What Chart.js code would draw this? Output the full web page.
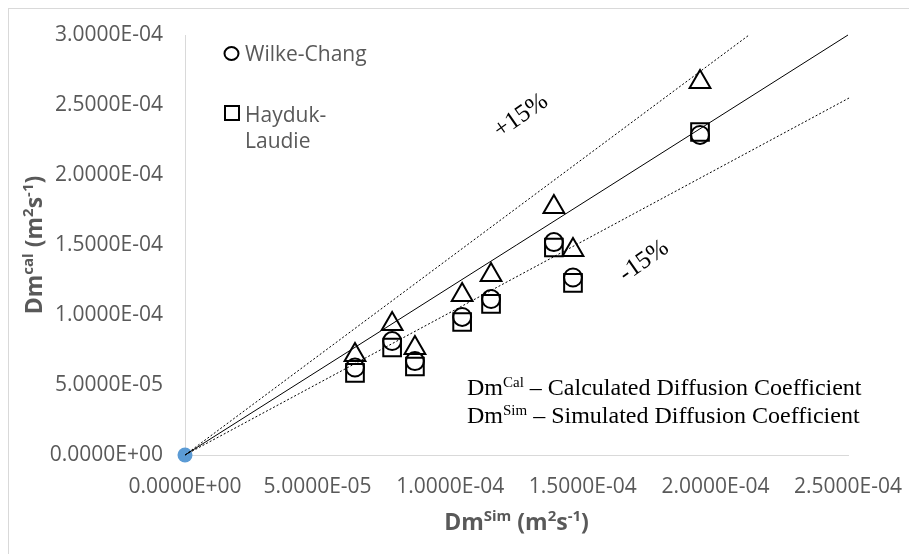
<!DOCTYPE html>
<html>
<head>
<meta charset="utf-8">
<script src="https://cdn.jsdelivr.net/npm/chart.js@4.4.1/dist/chart.umd.min.js"></script>
<style>
  html, body { margin: 0; padding: 0; background: #ffffff; }
  canvas { display: block; }
</style>
</head>
<body>
<canvas id="chart" width="909" height="554"></canvas>
<script>
// Simulated diffusion coefficients (x) and the calculated values of each correlation (y), m2/s
const simulated      = [6.41e-5, 7.81e-5, 8.67e-5, 1.045e-4, 1.154e-4, 1.391e-4, 1.463e-4, 1.942e-4];
const wilkeChang     = [6.25e-5, 8.14e-5, 6.71e-5, 9.86e-5, 1.114e-4, 1.521e-4, 1.268e-4, 2.286e-4];
const haydukLaudie   = [5.86e-5, 7.68e-5, 6.32e-5, 9.50e-5, 1.079e-4, 1.482e-4, 1.229e-4, 2.307e-4];
const thirdCorrelation = [7.14e-5, 9.36e-5, 7.64e-5, 1.143e-4, 1.286e-4, 1.771e-4, 1.464e-4, 2.664e-4];

// Reference point at the origin
const originX = [0];
const originY = [0];

// Guide lines: centre line and the +15% / -15% bands (start and end points)
const centreLineX = [0, 2.5e-4];
const centreLineY = [0, 3.0e-4];
const plusBandX   = [0, 2.127e-4];
const plusBandY   = [0, 3.0e-4];
const minusBandX  = [0, 2.504e-4];
const minusBandY  = [0, 2.55e-4];

// Axis ticks
const xTickValues = [0, 5e-5, 1e-4, 1.5e-4, 2e-4, 2.5e-4];
const xTickLabels = ['0.0000E+00', '5.0000E-05', '1.0000E-04', '1.5000E-04', '2.0000E-04', '2.5000E-04'];
const yTickValues = [0, 5e-5, 1e-4, 1.5e-4, 2e-4, 2.5e-4, 3e-4];
const yTickLabels = ['0.0000E+00', '5.0000E-05', '1.0000E-04', '1.5000E-04', '2.0000E-04', '2.5000E-04', '3.0000E-04'];

const pairs = (xs, ys) => xs.map((x, i) => ({ x: x, y: ys[i] }));

const SANS = '"Open Sans", "Noto Sans", sans-serif';
const SERIF = '"Liberation Serif", "DejaVu Serif", serif';
const GREY_TEXT = '#595959';

// Draws a sequence of text runs (some raised as superscripts) centred on x
function drawRuns(ctx, runs, x, y, align) {
  let total = 0;
  runs.forEach(r => { ctx.font = r.font; r.w = ctx.measureText(r.t).width; total += r.w; });
  let cx = align === 'left' ? x : x - total / 2;
  ctx.textAlign = 'left';
  ctx.textBaseline = 'alphabetic';
  runs.forEach(r => {
    ctx.font = r.font;
    ctx.fillText(r.t, cx, y - (r.rise || 0));
    cx += r.w;
  });
}

const decorations = {
  id: 'decorations',
  beforeDraw(chart) {
    const ctx = chart.ctx;
    ctx.save();
    ctx.strokeStyle = '#d9d9d9';
    ctx.lineWidth = 1;
    ctx.strokeRect(8.5, 8.5, 905, 560);
    ctx.restore();
  },
  afterDraw(chart) {
    const ctx = chart.ctx;
    const area = chart.chartArea;
    ctx.save();

    // Axis titles
    const tb = 'bold 23px ' + SANS;
    const ts = 'bold 15px ' + SANS;
    ctx.fillStyle = GREY_TEXT;
    const xTitle = [
      { t: 'Dm', font: tb }, { t: 'Sim', font: ts, rise: 9 },
      { t: ' (m', font: tb }, { t: '2', font: ts, rise: 9 },
      { t: 's', font: tb }, { t: '-1', font: ts, rise: 9 }, { t: ')', font: tb }
    ];
    drawRuns(ctx, xTitle, (area.left + area.right) / 2, 530);

    const yTitle = [
      { t: 'Dm', font: tb }, { t: 'cal', font: ts, rise: 9 },
      { t: ' (m', font: tb }, { t: '2', font: ts, rise: 9 },
      { t: 's', font: tb }, { t: '-1', font: ts, rise: 9 }, { t: ')', font: tb }
    ];
    ctx.save();
    ctx.translate(42, (area.top + area.bottom) / 2);
    ctx.rotate(-Math.PI / 2);
    drawRuns(ctx, yTitle, 0, 0);
    ctx.restore();

    // Legend box text
    ctx.font = '21px ' + SANS;
    ctx.fillStyle = GREY_TEXT;
    ctx.textAlign = 'left';
    ctx.textBaseline = 'alphabetic';
    ctx.fillText('Wilke-Chang', 245, 61);
    ctx.fillText('Hayduk-', 245, 122);
    ctx.fillText('Laudie', 245, 148);
    ctx.strokeStyle = '#000000';
    ctx.lineWidth = 2;
    ctx.beginPath();
    ctx.ellipse(231.5, 53.5, 7, 6.5, 0, 0, Math.PI * 2);
    ctx.stroke();
    ctx.strokeRect(225, 106, 14, 14);

    // Band labels
    ctx.fillStyle = '#000000';
    ctx.font = '25px ' + SERIF;
    ctx.textAlign = 'center';
    ctx.textBaseline = 'middle';
    ctx.save();
    ctx.translate(521, 116);
    ctx.rotate(-35 * Math.PI / 180);
    ctx.fillText('+15%', 0, 0);
    ctx.restore();
    ctx.save();
    ctx.translate(644, 261);
    ctx.rotate(-35 * Math.PI / 180);
    ctx.fillText('-15%', 0, 0);
    ctx.restore();

    // Notation
    const nb = '24px ' + SERIF;
    const ns = '15px ' + SERIF;
    drawRuns(ctx, [
      { t: 'Dm', font: nb }, { t: 'Cal', font: ns, rise: 8 },
      { t: ' \u2013 Calculated Diffusion Coefficient', font: nb }
    ], 467, 395, 'left');
    drawRuns(ctx, [
      { t: 'Dm', font: nb }, { t: 'Sim', font: ns, rise: 8 },
      { t: ' \u2013 Simulated Diffusion Coefficient', font: nb }
    ], 467, 423, 'left');

    ctx.restore();
  }
};

const guide = (xs, ys, dash) => ({
  type: 'line',
  data: pairs(xs, ys),
  showLine: true,
  borderColor: '#000000',
  borderWidth: 1,
  borderDash: dash,
  pointRadius: 0,
  fill: false,
  clip: false
});

const marker = (label, ys, style, radius) => ({
  label: label,
  data: pairs(simulated, ys),
  showLine: false,
  pointStyle: style,
  pointRadius: radius,
  pointBorderColor: '#000000',
  pointBackgroundColor: 'rgba(0,0,0,0)',
  pointBorderWidth: 2,
  clip: false
});

new Chart(document.getElementById('chart'), {
  type: 'scatter',
  data: {
    datasets: [
      guide(centreLineX, centreLineY, []),
      guide(plusBandX, plusBandY, [2, 2]),
      guide(minusBandX, minusBandY, [2, 2]),
      marker('Wilke-Chang', wilkeChang, 'circle', 9),
      marker('Hayduk-Laudie', haydukLaudie, 'rect', 12.5),
      marker('', thirdCorrelation, 'triangle', 12),
      {
        label: 'Origin',
        data: pairs(originX, originY),
        pointStyle: 'circle',
        pointRadius: 7.5,
        pointBackgroundColor: '#5b9bd5',
        pointBorderColor: '#5b9bd5',
        pointBorderWidth: 0,
        clip: false
      }
    ]
  },
  options: {
    responsive: false,
    devicePixelRatio: 1,
    animation: false,
    events: [],
    layout: { padding: { top: 35, right: 61, bottom: 0, left: 0 } },
    plugins: {
      legend: { display: false },
      tooltip: { enabled: false },
      title: { display: false }
    },
    scales: {
      x: {
        type: 'linear',
        min: 0,
        max: 2.5e-4,
        grid: { display: false, drawTicks: false, tickLength: 0 },
        border: { display: true, color: '#d9d9d9', width: 1 },
        afterBuildTicks: s => { s.ticks = xTickValues.map(v => ({ value: v })); },
        afterFit: s => { s.height = 99; s.paddingLeft = 0; s.paddingRight = 0; },
        ticks: {
          padding: 19,
          maxRotation: 0,
          color: GREY_TEXT,
          font: { family: SANS, size: 21 },
          callback: (v, i) => xTickLabels[i]
        }
      },
      y: {
        type: 'linear',
        min: 0,
        max: 3e-4,
        grid: { display: false, drawTicks: false, tickLength: 0 },
        border: { display: true, color: '#d9d9d9', width: 1 },
        afterBuildTicks: s => { s.ticks = yTickValues.map(v => ({ value: v })); },
        afterFit: s => { s.width = 185; s.paddingTop = 0; s.paddingBottom = 0; },
        ticks: {
          padding: 22,
          color: GREY_TEXT,
          font: { family: SANS, size: 21 },
          callback: (v, i) => yTickLabels[i]
        }
      }
    }
  },
  plugins: [decorations]
});
</script>
</body>
</html>
